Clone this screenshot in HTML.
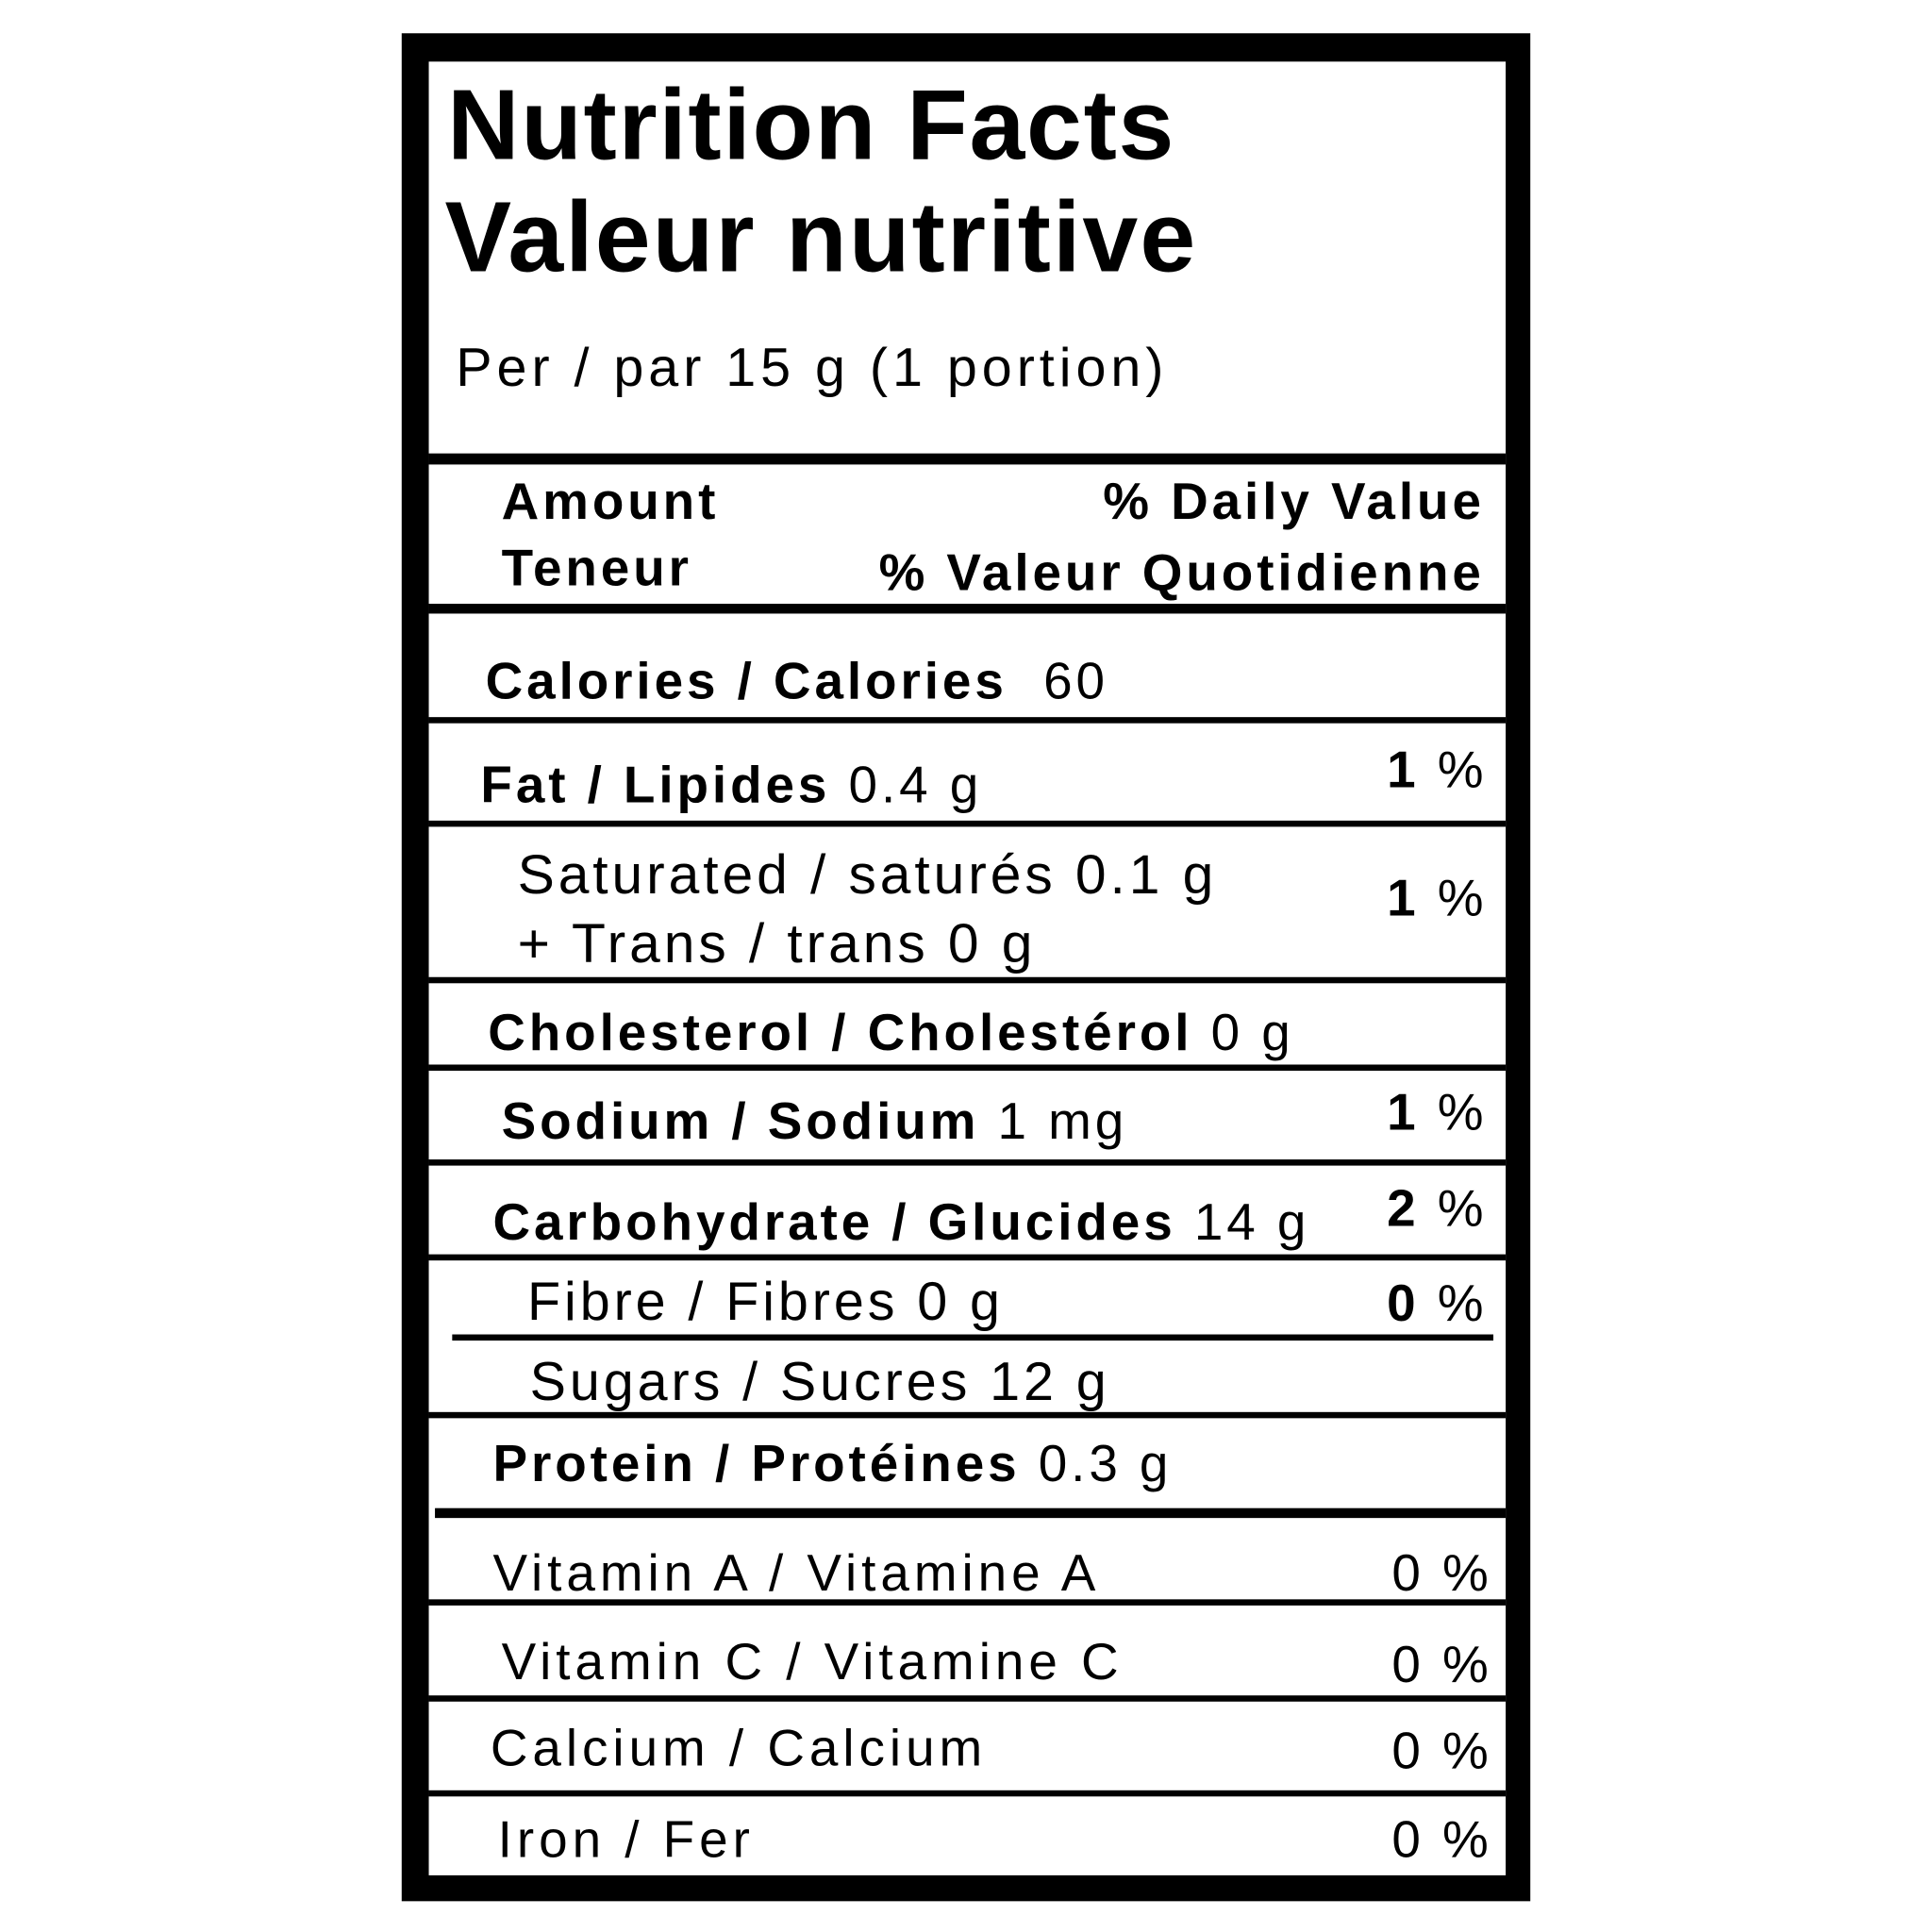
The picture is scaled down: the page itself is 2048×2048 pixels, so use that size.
<!DOCTYPE html>
<html><head><meta charset="utf-8"><style>
html,body{margin:0;padding:0;background:#fff;width:2048px;height:2048px;overflow:hidden}
#c{position:absolute;left:0;top:0;width:1568px;height:1568px;transform:scale(1.306122);transform-origin:0 0}
.t{position:absolute;font-family:"Liberation Sans",sans-serif;line-height:1;white-space:nowrap;color:#000;letter-spacing:3px}
.w{letter-spacing:3.8px}
.h{letter-spacing:1.3px}
.b{font-weight:bold}
.r{text-align:right}
.l{position:absolute;background:#000}
</style></head><body><div id="c">
<div class="l" style="left:326px;top:27px;width:916px;height:1516px"></div>
<div style="position:absolute;left:348px;top:50px;width:874px;height:1472px;background:#fff"></div>

<div class="l" style="left:348px;top:368px;width:874px;height:9px"></div>
<div class="l" style="left:348px;top:490px;width:874px;height:8px"></div>
<div class="l" style="left:348px;top:582px;width:874px;height:5px"></div>
<div class="l" style="left:348px;top:666px;width:874px;height:5px"></div>
<div class="l" style="left:348px;top:793px;width:874px;height:5px"></div>
<div class="l" style="left:348px;top:864px;width:874px;height:5px"></div>
<div class="l" style="left:348px;top:941px;width:874px;height:5px"></div>
<div class="l" style="left:348px;top:1018px;width:874px;height:5px"></div>
<div class="l" style="left:367px;top:1083px;width:845px;height:5px"></div>
<div class="l" style="left:348px;top:1146px;width:874px;height:5px"></div>
<div class="l" style="left:353px;top:1224px;width:869px;height:8px"></div>
<div class="l" style="left:348px;top:1298px;width:874px;height:5px"></div>
<div class="l" style="left:348px;top:1376px;width:874px;height:5px"></div>
<div class="l" style="left:348px;top:1453px;width:874px;height:5px"></div>

<div class="t b h" style="left:363px;top:62px;font-size:81px">Nutrition Facts</div>
<div class="t b h" style="left:361px;top:153px;font-size:81px;letter-spacing:1.6px">Valeur nutritive</div>
<div class="t w" style="left:370px;top:277px;font-size:44px">Per / par 15 g (1 portion)</div>

<div class="t b" style="left:407px;top:386px;font-size:42px">Amount</div>
<div class="t b" style="left:407px;top:440px;font-size:42px">Teneur</div>
<div class="t b r" style="right:363px;top:386px;font-size:42px">% Daily Value</div>
<div class="t b r" style="right:363px;top:444px;font-size:42px">% Valeur Quotidienne</div>

<div class="t b" style="left:394px;top:532px;font-size:42px">Calories / Calories <span style="font-weight:normal">&nbsp;60</span></div>

<div class="t b" style="left:390px;top:616px;font-size:42px">Fat / Lipides <span style="font-weight:normal">0.4 g</span></div>
<div class="t b r" style="right:361px;top:604px;font-size:42px">1 <span style="font-weight:normal">%</span></div>

<div class="t" style="left:420px;top:687px;font-size:45px">Saturated / saturés 0.1 g</div>
<div class="t" style="left:420px;top:743px;font-size:45px">+ Trans / trans 0 g</div>
<div class="t b r" style="right:361px;top:708px;font-size:42px">1 <span style="font-weight:normal">%</span></div>

<div class="t b" style="left:396px;top:817px;font-size:42px">Cholesterol / Cholestérol <span style="font-weight:normal">0 g</span></div>

<div class="t b" style="left:407px;top:889px;font-size:42px">Sodium / Sodium <span style="font-weight:normal">1 mg</span></div>
<div class="t b r" style="right:361px;top:882px;font-size:42px">1 <span style="font-weight:normal">%</span></div>

<div class="t b" style="left:400px;top:971px;font-size:42px">Carbohydrate / Glucides <span style="font-weight:normal">14 g</span></div>
<div class="t b r" style="right:361px;top:960px;font-size:42px">2 <span style="font-weight:normal">%</span></div>

<div class="t" style="left:428px;top:1035px;font-size:44px">Fibre / Fibres 0 g</div>
<div class="t b r" style="right:361px;top:1037px;font-size:42px">0 <span style="font-weight:normal">%</span></div>

<div class="t" style="left:430px;top:1100px;font-size:44px">Sugars / Sucres 12 g</div>

<div class="t b" style="left:400px;top:1167px;font-size:42px">Protein / Protéines <span style="font-weight:normal">0.3 g</span></div>

<div class="t w" style="left:400px;top:1256px;font-size:42px">Vitamin A / Vitamine A</div>
<div class="t r" style="right:357px;top:1256px;font-size:42px">0 %</div>
<div class="t w" style="left:407px;top:1328px;font-size:42px">Vitamin C / Vitamine C</div>
<div class="t r" style="right:357px;top:1330px;font-size:42px">0 %</div>
<div class="t w" style="left:398px;top:1398px;font-size:42px">Calcium / Calcium</div>
<div class="t r" style="right:357px;top:1400px;font-size:42px">0 %</div>
<div class="t w" style="left:404px;top:1472px;font-size:42px">Iron / Fer</div>
<div class="t r" style="right:357px;top:1472px;font-size:42px">0 %</div>
</div></body></html>
